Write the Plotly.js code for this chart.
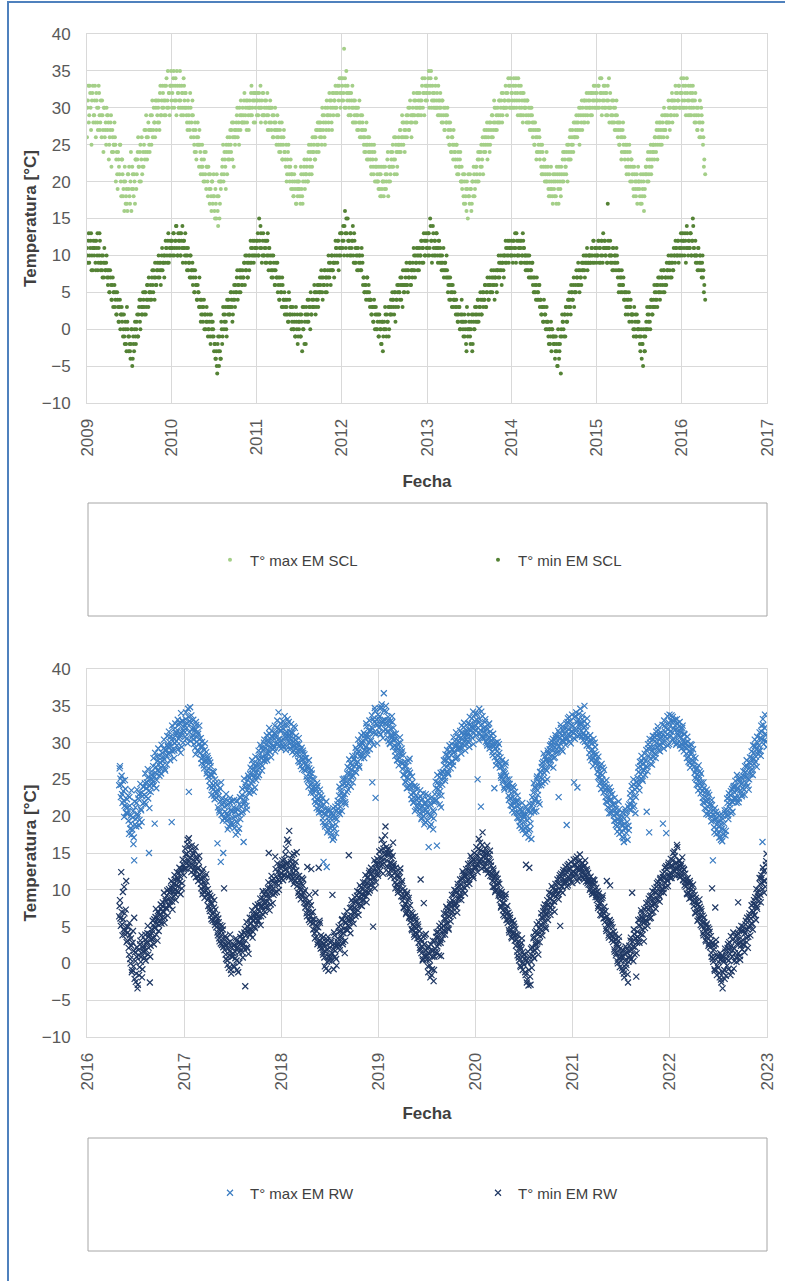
<!DOCTYPE html>
<html>
<head>
<meta charset="utf-8">
<script src="https://cdn.plot.ly/plotly-3.0.1.min.js"></script>
<style>html,body{margin:0;padding:0;background:#fff;}#chart{width:785px;height:1281px;}</style>
</head>
<body>
<div id="chart"></div>
<script>
// ---- DATA ----
// Station EM SCL: one row per month starting Jan 2009, 8 readings per month (°C)
const sclStart = [2009, 1];
const tmaxSCL = [
[30,33,29,32,27,31,33,29],[31,28,32,30,27,33,29,28],[29,31,27,30,26,28,30,27],[28,25,27,29,24,26,25,28],
[25,23,21,24,22,25,20,23],[21,19,16,20,18,17,21,19],[18,20,16,22,19,21,17,23],[21,24,22,20,25,23,21,24],
[25,23,27,26,24,28,25,27],[27,29,26,30,28,31,27,29],[30,28,32,29,31,33,30,29],[31,33,30,35,32,29,33,31],
[32,34,30,33,31,35,32,30],[33,31,29,32,30,34,31,32],[30,28,31,29,27,30,28,31],[27,25,28,24,26,28,25,27],
[24,22,25,21,23,20,24,22],[20,22,19,21,18,20,17,21],[16,19,15,18,14,20,17,19],[21,23,20,24,22,25,21,23],
[24,26,25,27,23,28,26,25],[27,29,26,28,30,27,29,28],[29,31,28,30,27,31,29,30],[30,32,29,31,28,32,30,31],
[31,29,32,30,28,31,32,29],[30,28,31,29,27,30,28,31],[28,30,26,29,27,28,25,29],[26,24,27,25,28,23,26,24],
[23,25,21,24,22,20,23,21],[20,18,21,19,17,20,18,19],[19,17,21,18,20,22,19,21],[22,20,24,21,23,25,22,24],
[25,23,26,24,27,25,28,26],[27,25,29,28,26,30,27,29],[29,27,31,30,28,32,29,31],[30,32,29,33,31,34,30,32],
[33,31,38,34,30,32,33,29],[31,29,32,30,28,31,29,30],[29,27,30,28,26,29,27,28],[26,24,27,25,23,26,24,25],
[23,21,24,22,25,20,23,22],[20,19,21,18,22,19,20,18],[19,21,20,23,18,22,20,24],[22,25,23,21,26,24,22,25],
[25,27,24,26,28,25,27,26],[28,26,29,27,30,28,26,29],[29,31,28,30,32,29,31,30],[31,29,33,30,32,34,31,33],
[32,34,30,33,35,31,32,30],[31,33,30,32,29,31,30,32],[29,31,28,30,27,29,28,30],[27,25,28,24,26,25,27,24],
[23,25,21,24,22,23,20,22],[20,18,21,17,19,20,15,18],[17,19,16,20,18,21,19,22],[21,23,20,24,22,25,23,21],
[24,26,25,27,23,26,28,25],[27,29,26,28,30,27,29,28],[29,31,28,30,32,29,30,31],[30,32,29,31,33,30,34,32],
[31,33,30,32,34,31,29,33],[30,32,29,31,28,32,30,31],[29,31,28,30,27,29,30,28],[27,25,28,26,24,27,25,26],
[24,22,25,21,23,20,22,24],[21,19,20,18,22,19,17,20],[18,20,17,21,19,22,20,18],[21,23,20,24,22,21,25,23],
[24,26,23,25,27,24,26,28],[26,28,27,29,25,30,28,27],[29,31,28,30,32,29,31,30],[30,32,29,31,33,30,32,31],
[31,33,30,34,32,29,31,33],[30,32,29,31,33,30,28,32],[29,31,28,30,27,29,31,28],[27,25,28,26,24,27,25,26],
[24,22,25,23,21,24,22,23],[21,19,22,20,18,21,19,20],[19,17,20,18,21,16,19,22],[21,23,20,22,24,21,23,25],
[24,26,25,27,23,26,28,25],[27,25,28,26,29,27,28,26],[28,30,27,29,31,28,30,29],[30,32,29,31,33,30,32,34],
[31,33,30,32,29,34,31,33],[30,32,29,31,33,30,28,32],[29,27,30,28,31,26,29,28],[26,23,21]
];
// second daily readings of each month (between the ones above)
const tmaxSCL2 = [
[26,31,28,33,30,25,32,28],[29,33,26,31,28,30,32,27],[31,26,29,24,30,27,25,29],[29,23,26,28,22,27,24,25],
[26,20,24,19,23,21,25,18],[23,18,20,22,17,19,16,21],[22,17,24,19,21,18,20,23],[19,23,26,22,24,20,26,22],
[22,27,24,29,23,26,27,24],[29,25,31,27,28,26,30,31],[28,31,27,33,29,30,32,31],[33,29,34,31,30,32,33,35],
[30,33,35,31,34,29,33,32],[31,35,30,33,32,29,33,30],[32,29,27,30,28,32,26,29],[29,26,24,27,23,25,26,22],
[25,21,23,22,20,24,21,19],[22,18,21,17,19,16,20,18],[18,15,17,21,16,18,15,20],[20,22,25,21,23,19,24,26],
[25,23,27,24,28,26,22,27],[26,28,30,27,25,29,31,28],[30,28,32,29,31,28,30,27],[31,29,33,30,32,31,28,32],
[29,32,30,31,33,30,29,32],[29,31,28,30,32,29,27,30],[30,27,29,26,28,30,27,26],[27,25,28,24,26,23,25,27],
[24,22,20,23,25,21,22,19],[21,19,18,20,22,17,19,20],[20,18,22,19,17,21,23,20],[21,23,20,25,22,24,21,26],
[24,26,23,27,25,28,24,27],[28,26,30,27,29,25,28,31],[30,28,32,29,31,27,30,32],[31,33,30,32,29,33,32,34],
[31,34,32,30,33,35,31,32],[30,32,29,31,33,30,28,31],[28,30,29,27,31,28,26,29],[27,25,26,24,28,25,23,26],
[24,22,25,23,21,24,22,20],[21,20,22,19,21,18,20,22],[20,22,19,21,24,20,22,21],[23,24,22,26,23,25,21,24],
[26,24,27,25,29,26,28,24],[27,29,28,30,27,31,29,28],[30,32,29,31,28,30,32,29],[32,30,31,34,32,29,33,32],
[31,33,35,32,34,30,33,31],[32,30,34,31,30,33,29,31],[30,28,31,29,27,30,28,29],[26,28,25,27,24,26,23,25],
[24,22,25,23,21,22,24,20],[19,21,17,20,18,16,19,21],[18,21,19,17,20,22,18,20],[22,20,24,23,21,24,22,26],
[25,27,24,26,28,25,27,24],[28,26,29,27,31,28,30,27],[30,28,31,29,31,28,32,30],[31,33,30,32,34,31,33,30],
[32,30,34,31,33,30,32,34],[31,29,33,30,32,29,31,30],[30,28,31,29,28,30,27,29],[26,28,25,27,23,26,24,27],
[23,25,21,24,22,23,21,20],[20,22,18,21,19,20,18,21],[19,21,18,22,20,17,21,19],[22,20,24,21,23,22,24,20],
[25,23,27,24,26,25,28,26],[27,29,26,28,30,27,29,31],[30,28,31,29,31,30,28,32],[31,29,32,30,32,31,33,30],
[32,30,33,31,32,34,30,32],[31,33,30,32,29,31,34,30],[30,28,29,31,28,30,27,29],[26,28,25,27,23,26,28,24],
[23,25,21,24,22,25,20,23],[20,22,18,21,19,20,17,22],[20,18,21,17,19,20,18,21],[22,20,24,21,23,25,22,24],
[25,23,26,24,28,25,27,26],[28,26,29,27,30,27,29,28],[29,31,28,30,29,32,31,30],[31,33,30,32,31,33,30,32],
[32,30,34,31,33,30,32,29],[31,29,33,30,32,31,29,31],[28,30,27,29,26,28,30,27],[25,22]
];
const tminSCL = [
[10,12,9,11,13,10,8,11],[11,9,12,10,8,11,13,9],[9,8,10,7,9,8,10,8],[7,5,8,6,4,7,5,6],
[4,2,5,3,1,4,2,3],[2,0,-1,1,-2,3,0,-3],[-2,-4,0,-5,-1,-3,1,-2],[1,-1,2,4,0,3,2,5],
[3,5,2,4,6,3,5,4],[5,7,6,8,4,7,6,9],[7,9,8,6,10,8,9,7],[9,11,10,12,9,11,10,12],
[11,13,10,12,14,11,10,12],[12,10,13,11,9,12,11,13],[10,8,11,9,7,10,8,9],[7,5,8,6,4,6,5,7],
[4,2,3,1,4,2,0,3],[2,0,1,-1,2,0,1,-1],[-2,-4,-3,-6,-1,-5,-3,-4],[0,-1,2,1,3,0,4,2],
[3,2,5,4,1,4,6,3],[5,7,4,6,8,5,7,6],[7,9,6,8,10,7,9,8],[9,11,10,12,9,10,11,12],
[12,10,15,11,13,9,12,10],[11,9,12,10,13,8,11,10],[8,10,7,9,6,8,7,9],[6,4,7,5,3,6,4,5],
[3,2,4,1,5,2,3,0],[2,0,1,-1,3,0,-2,1],[1,-1,2,-3,0,3,1,-2],[2,4,1,3,0,2,4,3],
[3,5,2,4,6,3,5,7],[5,7,4,6,8,5,7,6],[7,9,8,6,10,8,9,7],[9,11,10,12,8,11,10,13],
[12,14,10,16,11,13,15,12],[11,13,10,12,14,9,12,11],[10,8,11,9,10,8,11,9],[7,5,6,4,7,5,6,4],
[4,2,3,1,4,0,3,2],[1,-1,2,0,-2,1,-3,0],[0,2,-1,1,3,0,2,4],[2,4,3,5,1,4,6,3],
[5,4,6,7,3,6,5,8],[6,8,5,7,9,6,8,7],[8,10,7,9,11,8,10,9],[10,12,9,11,13,10,12,11],
[11,13,10,15,12,9,14,11],[12,10,13,11,9,12,10,11],[9,10,8,7,9,8,10,7],[6,4,7,5,3,6,4,5],
[3,4,2,1,3,0,2,4],[1,-1,2,0,-2,3,-1,0],[0,-2,1,-3,2,0,3,1],[2,4,1,3,5,2,4,3],
[4,6,3,5,7,4,6,5],[5,7,6,8,4,7,6,8],[7,9,8,10,6,9,8,10],[9,11,10,12,9,11,10,12],
[10,12,11,13,9,12,10,11],[11,9,12,10,13,11,9,10],[9,8,10,7,9,8,7,9],[7,5,6,4,7,5,4,6],
[4,2,3,1,4,2,0,3],[1,-1,0,-2,1,0,-1,-2],[-1,-3,-2,-5,0,-4,-2,-6],[-1,1,0,2,-1,3,1,4],
[3,4,2,5,4,6,3,5],[5,7,6,8,5,7,6,8],[8,9,7,9,10,8,9,10],[9,10,11,9,12,10,11,9],
[10,12,9,11,10,12,9,11],[12,10,11,9,17,11,10,12],[10,9,11,8,10,9,11,9],[8,6,7,5,8,6,7,5],
[5,3,4,2,5,3,4,2],[2,0,3,1,-1,2,0,1],[-1,-3,0,-2,-5,-1,-3,0],[0,2,1,3,0,4,2,3],
[3,5,4,6,3,7,5,4],[5,7,6,8,5,7,6,8],[7,9,8,10,7,9,8,10],[9,11,10,12,9,11,10,12],
[10,12,11,13,9,14,11,12],[11,13,10,12,15,11,10,12],[10,9,11,8,10,9,7,10],[8,6,4]
];
const tminSCL2 = [
[11,9,13,10,12,8,11,12],[10,12,8,11,13,9,10,12],[8,10,7,9,11,8,9,7],[6,8,5,7,4,6,3,5],
[3,5,2,4,1,3,0,2],[1,-1,2,-2,0,-3,1,-1],[-1,-3,-2,0,-4,-2,0,-1],[0,2,-1,3,1,4,2,3],
[4,2,5,3,6,4,7,5],[6,4,8,5,7,9,6,8],[8,10,7,9,8,11,9,10],[10,12,11,9,13,10,12,11],
[12,10,13,11,12,14,10,13],[11,13,10,12,14,11,12,10],[9,11,10,8,9,10,7,8],[6,8,5,7,6,4,5,3],
[3,1,4,2,3,0,2,1],[1,-1,0,2,-2,1,-1,0],[-3,-2,-4,-5,-2,-3,-1,-4],[1,-2,3,0,2,1,-1,3],
[4,2,3,5,3,2,5,4],[6,5,8,6,5,7,8,6],[8,7,9,10,8,9,7,10],[10,12,9,11,10,12,11,10],
[11,13,10,12,14,11,10,13],[10,12,11,9,12,10,11,9],[9,7,8,10,8,6,9,7],[5,7,4,6,5,7,3,4],
[2,4,3,2,1,4,2,3],[1,3,0,2,-1,1,2,-1],[0,2,-1,1,3,0,-2,2],[3,1,2,4,3,5,2,3],
[4,6,5,3,5,4,6,5],[6,8,5,7,6,8,7,5],[8,10,7,9,8,10,8,9],[10,12,11,9,12,10,13,11],
[13,11,12,14,13,15,10,12],[12,10,13,11,12,10,13,9],[9,11,10,8,10,9,8,10],[6,7,5,6,5,7,4,5],
[3,4,2,3,1,3,2,0],[0,2,-1,1,0,-2,1,-1],[1,3,0,2,1,-1,3,2],[3,5,4,2,5,3,4,5],
[6,5,7,4,6,8,5,6],[7,9,6,8,7,9,6,8],[9,11,8,10,9,10,11,8],[11,10,12,11,9,12,10,13],
[12,10,13,11,14,12,10,13],[10,12,11,13,10,11,12,9],[10,8,9,11,8,9,7,8],[5,7,6,4,6,5,3,4],
[4,2,3,1,2,3,0,1],[2,0,1,-1,1,-3,0,2],[1,-1,0,2,-2,1,0,2],[3,1,4,2,3,4,2,5],
[5,4,6,3,5,6,4,7],[6,8,5,7,6,7,8,5],[8,10,7,9,8,9,10,7],[10,12,9,11,10,12,11,10],
[11,9,12,10,11,13,10,12],[10,12,11,9,10,12,11,10],[8,10,9,8,10,7,8,9],[6,5,7,5,6,4,5,6],
[3,4,2,3,1,3,2,1],[0,1,-2,0,-1,-3,0,-1],[-2,-4,-1,-3,-5,-2,-3,-1],[0,2,1,-1,2,3,1,2],
[4,5,3,6,5,4,7,5],[6,8,7,9,6,8,7,9],[9,10,8,10,9,11,9,10],[10,9,11,10,12,9,11,10],
[11,10,12,11,9,12,10,13],[11,12,10,11,9,12,11,10],[9,10,8,11,9,10,8,10],[7,5,8,6,7,5,6,4],
[4,2,5,3,4,1,3,2],[1,2,-1,0,2,-1,1,0],[0,-2,-1,-4,-2,0,-3,-1],[1,3,0,2,1,3,4,2],
[4,6,3,5,4,6,5,7],[6,8,7,5,8,6,7,9],[8,10,9,7,9,10,8,11],[10,12,11,10,12,10,11,13],
[11,13,12,10,12,11,13,10],[12,11,13,10,12,14,11,10],[9,10,8,11,9,10,8,9],[7,5]
];
// Station EM RW: one row per month starting May 2016, 10 readings per month (°C)
const rwStart = [2016, 5];
const tmaxRW = [
[26.5,25.1,24.3,23.0,24.8,22.1,21.4,23.7,20.5,22.3],[21.2,19.4,22.6,18.3,20.1,17.5,19.8,16.2,14.0,18.9],
[19.6,21.8,20.3,22.4,18.7,23.1,21.0,19.2,22.7,24.0],[22.9,24.5,21.6,23.8,25.2,22.4,15.0,24.1,23.3,25.6],
[25.0,26.8,24.2,19.0,25.9,23.8,28.1,26.3,27.0,25.5],[27.3,25.8,28.6,26.9,29.2,27.7,26.2,28.9,27.0,29.6],
[28.4,30.1,27.6,29.5,19.2,28.8,30.6,27.9,29.9,31.0],[30.2,31.7,29.1,32.4,30.8,28.6,31.5,33.0,30.0,32.1],
[31.4,33.2,30.5,32.6,34.6,23.3,32.9,30.2,33.7,31.8],[32.0,30.4,31.6,29.3,32.8,30.7,28.9,31.2,29.8,30.5],
[29.4,27.8,30.1,28.3,26.9,29.0,27.4,28.7,26.2,27.9],[26.5,24.8,27.3,25.6,23.9,26.1,24.2,22.8,25.0,23.4],
[23.1,16.3,22.7,20.8,23.8,13.8,20.2,22.4,15.0,19.7],[20.6,22.3,19.4,21.5,20.0,18.6,21.9,20.8,19.1,22.0],
[19.8,21.2,18.4,20.6,19.3,22.1,17.8,20.2,21.6,19.6],[21.3,22.9,20.6,16.5,21.8,24.4,22.6,20.9,24.9,23.2],
[24.1,25.7,23.5,26.4,24.8,27.1,25.3,23.9,26.8,25.9],[26.3,27.8,25.6,28.4,27.1,29.3,26.8,28.1,30.0,27.5],
[28.3,29.7,27.6,30.4,28.9,31.2,29.4,28.0,30.8,29.1],[29.6,31.3,28.8,30.7,32.0,29.9,34.1,30.5,31.6,29.2],
[30.3,31.9,29.5,32.4,30.8,29.0,31.5,33.2,30.1,31.0],[30.6,29.2,31.4,28.7,30.1,32.2,29.6,28.4,30.9,29.8],
[28.9,27.5,29.8,28.2,26.8,29.3,27.7,28.6,26.3,27.9],[27.0,25.4,26.6,24.8,27.6,25.9,24.2,26.3,23.6,25.1],
[24.0,22.6,23.4,21.7,24.5,22.2,20.9,23.1,21.4,22.8],[21.3,19.7,13.8,20.4,18.6,21.0,13.1,20.7,18.1,19.9],
[19.2,17.8,20.4,18.6,21.1,17.1,19.7,18.9,20.8,21.6],[21.0,22.8,20.3,23.5,21.9,24.3,22.4,25.1,23.0,21.6],
[24.2,25.8,23.6,26.5,24.9,27.2,25.4,26.9,24.6,27.7],[26.8,28.2,25.9,29.0,27.4,28.8,26.6,29.5,27.9,30.1],
[28.7,30.2,27.9,31.0,29.4,32.2,28.4,30.7,31.6,29.1],[30.4,32.1,24.6,33.2,31.3,34.7,22.5,32.6,29.9,33.8],
[32.0,33.6,31.1,34.8,32.7,30.6,36.7,33.1,31.8,34.2],[31.5,33.0,30.2,32.3,29.8,31.9,30.7,32.8,29.4,31.2],
[29.6,28.2,30.5,27.6,29.1,26.9,28.5,30.0,27.3,28.8],[27.2,25.6,26.8,24.7,26.2,23.8,25.3,27.5,24.1,25.9],
[23.9,22.3,24.6,21.8,23.2,20.7,22.8,24.0,21.3,22.5],[21.9,20.4,22.7,19.6,21.3,23.1,20.0,21.8,19.2,20.9],
[20.5,22.2,15.8,21.4,20.1,18.9,22.6,20.8,19.7,21.9],[22.1,23.8,16.0,24.6,22.9,25.3,23.4,21.2,24.9,26.0],
[25.4,26.9,24.8,27.6,26.1,28.3,25.7,27.2,28.8,26.5],[27.4,29.0,26.9,28.6,30.2,27.8,29.5,28.1,30.8,29.1],
[29.3,30.6,28.5,31.4,29.8,32.1,30.3,28.9,31.7,30.9],[30.2,31.8,29.4,32.5,30.9,33.3,31.4,29.8,32.2,33.9],
[31.6,33.1,25.0,32.7,34.6,31.2,21.3,30.8,33.6,31.9],[31.4,32.8,30.1,31.9,29.6,32.4,30.7,29.2,31.5,30.3],
[29.7,28.3,30.5,23.8,29.2,26.9,28.8,30.1,27.4,28.6],[27.1,25.5,26.7,24.6,26.2,23.9,25.8,27.3,24.3,25.0],
[23.8,22.2,24.4,21.5,23.1,20.8,22.6,23.9,21.2,22.0],[21.4,19.8,22.1,20.3,18.7,21.0,19.4,20.6,18.1,19.9],
[19.3,17.6,20.2,18.6,21.0,17.1,19.7,18.2,20.5,21.4],[21.7,23.2,20.6,24.0,22.4,25.1,23.5,21.9,24.6,26.0],
[25.2,26.7,24.5,27.4,25.9,28.1,26.4,27.7,25.0,28.6],[27.6,29.1,26.8,29.8,28.3,30.5,27.9,29.4,31.0,28.6],
[29.1,30.7,22.6,31.3,29.9,32.0,30.3,28.8,31.6,30.1],[30.5,32.0,18.8,32.8,31.2,33.5,30.8,29.9,32.4,31.5],
[31.3,24.6,30.5,33.6,31.8,23.9,32.4,33.9,31.0,32.6],[31.6,33.2,30.3,32.1,35.0,30.9,31.7,29.6,32.5,30.6],
[29.5,28.0,30.3,27.6,29.1,26.8,28.6,30.0,27.2,28.4],[26.9,25.3,26.4,24.4,25.8,23.7,25.0,26.6,23.2,24.6],
[23.5,22.0,23.9,21.2,22.7,20.4,22.2,23.4,20.8,21.6],[21.0,19.4,21.7,18.8,20.3,17.9,19.6,20.9,18.3,19.1],
[18.8,17.2,19.9,16.5,18.4,20.6,17.7,19.2,21.3,18.1],[20.9,22.5,21.6,23.4,21.2,24.3,22.8,20.4,24.7,23.9],
[24.4,26.0,23.5,26.8,25.1,27.5,24.8,26.3,27.9,25.6],[26.8,20.6,26.1,29.2,17.8,30.0,27.1,28.8,30.4,28.0],
[28.6,30.2,27.9,31.0,29.4,31.7,28.9,30.6,29.7,31.3],[30.0,19.0,29.2,32.3,30.8,17.7,31.1,29.6,32.7,33.8],
[31.5,32.9,30.4,33.5,31.9,30.1,32.3,29.7,33.2,31.2],[30.9,32.2,29.6,31.5,29.2,32.0,30.4,28.8,31.1,29.9],
[29.3,27.9,30.1,27.4,28.8,26.6,28.4,29.7,27.0,28.1],[26.7,25.2,26.3,24.3,25.7,23.5,24.9,26.1,23.1,24.6],
[23.4,21.9,23.8,21.1,22.6,20.3,22.0,23.2,20.7,21.5],[20.9,19.3,21.5,14.0,20.2,17.8,19.5,20.6,18.2,19.0],
[18.6,17.1,19.4,16.8,18.3,20.1,17.5,19.0,20.4,18.0],[20.2,21.8,19.6,22.6,21.1,23.4,22.0,20.6,23.9,22.4],
[22.6,24.1,21.8,23.5,25.0,22.4,24.6,23.1,25.3,22.9],[23.8,25.4,22.9,26.0,24.5,26.8,25.1,23.6,27.3,25.7],
[26.3,27.9,25.6,28.6,27.1,29.5,28.1,26.7,30.0,28.9],[28.8,30.6,28.2,31.5,16.5,32.4,30.3,33.8,31.0,29.4]
];
const tmaxRW2 = [
[24.2,26.8,22.6,25.5,21.8,23.4,19.9,24.9,21.2,20.4],[20.3,22.8,17.6,21.4,19.0,23.5,18.2,20.7,17.1,22.0],
[21.2,18.6,23.6,20.0,22.9,19.5,24.4,20.8,23.2,21.7],[24.0,21.9,25.8,22.7,24.6,26.4,23.4,21.1,25.1,24.4],
[26.1,24.7,27.9,25.4,28.6,26.7,24.9,27.5,29.2,26.0],[28.2,26.5,29.7,27.5,28.1,30.4,26.4,29.0,28.3,30.9],
[29.4,31.5,28.6,30.8,29.0,32.3,30.2,31.8,28.9,32.6],[31.3,29.6,33.1,30.5,32.7,31.1,34.0,29.4,32.9,31.6],
[32.4,30.8,34.1,32.0,29.9,33.5,31.4,34.8,32.7,30.7],[31.0,33.1,29.8,31.9,28.4,32.4,30.1,31.5,28.8,32.3],
[28.6,30.6,27.2,29.5,28.0,26.5,29.9,27.6,25.8,28.2],[25.4,27.6,24.1,26.8,22.9,25.6,23.6,26.0,22.3,24.5],
[22.5,24.3,21.2,23.4,20.5,22.0,24.6,21.5,19.4,21.8],[21.3,19.8,23.0,20.4,18.2,21.6,19.6,22.5,18.9,20.7],
[20.7,18.9,22.2,19.9,17.5,21.0,19.1,20.9,18.3,22.6],[22.5,20.4,23.7,21.6,25.1,22.1,24.0,21.4,23.5,25.5],
[25.2,23.1,26.6,24.5,27.6,25.7,23.3,26.4,28.1,24.9],[27.2,25.3,28.9,26.6,29.7,27.9,26.2,29.0,27.6,30.4],
[29.2,28.0,31.0,28.6,30.1,32.0,28.7,29.8,31.6,30.3],[30.7,29.3,32.3,31.2,29.8,33.0,30.4,31.9,29.6,32.6],
[31.6,29.7,32.9,30.4,33.6,31.2,29.5,32.3,30.7,32.8],[31.5,30.0,32.5,29.5,31.3,30.6,28.9,32.0,30.4,29.2],
[29.8,28.4,30.6,27.3,29.0,27.9,26.4,28.9,27.2,28.4],[26.2,27.9,25.0,26.9,24.0,26.5,25.3,23.2,25.8,24.5],
[23.2,25.0,22.0,23.8,21.1,24.1,22.5,20.5,23.6,21.9],[20.6,22.4,19.2,21.6,18.9,20.2,22.0,17.8,20.9,19.4],
[18.5,20.8,17.4,19.9,16.8,20.2,18.3,21.3,17.7,19.6],[22.1,20.5,24.0,21.3,23.2,20.7,25.0,22.7,24.4,21.9],
[25.1,23.3,26.7,24.4,27.7,25.8,24.0,26.3,28.2,25.5],[27.7,26.1,29.3,27.0,28.5,30.4,26.8,29.8,28.2,31.0],
[29.8,28.3,31.3,29.0,30.6,32.6,28.9,31.1,30.0,33.0],[31.6,30.2,33.7,31.9,29.7,32.8,34.3,31.2,33.1,32.4],
[33.3,31.4,34.6,32.4,35.2,33.0,31.6,34.3,32.6,35.0],[32.4,30.7,33.5,31.5,29.9,32.9,31.0,33.6,30.4,32.0],
[30.4,28.8,31.2,29.4,27.6,29.9,28.0,30.7,28.4,29.2],[26.4,28.3,25.6,27.4,24.6,26.8,25.2,23.9,26.2,27.8],
[24.4,22.9,25.4,23.2,21.9,24.1,22.4,20.9,23.6,21.6],[22.4,20.9,23.5,21.2,19.8,22.3,20.6,18.9,21.6,23.0],
[21.3,19.4,22.8,20.3,18.6,21.6,19.9,22.1,18.2,20.6],[23.0,24.7,22.2,25.6,23.7,24.2,21.6,25.9,22.8,24.3],
[26.0,27.6,25.2,28.4,26.7,29.0,25.9,27.9,29.6,27.1],[28.3,29.8,27.4,30.7,28.8,29.6,31.4,27.9,30.2,29.4],
[30.1,31.6,29.2,32.3,30.5,31.0,32.7,29.6,31.3,30.4],[31.2,32.6,30.0,33.5,31.7,32.1,30.6,34.2,31.9,32.9],
[32.4,31.0,33.9,32.0,30.3,33.2,31.7,34.2,32.5,30.6],[32.0,30.6,33.2,31.2,29.9,31.8,30.4,32.6,29.6,31.0],
[30.3,28.7,31.2,29.5,28.0,30.0,27.5,29.4,28.2,29.8],[26.6,28.0,25.2,27.6,24.9,26.0,23.6,26.9,25.5,24.2],
[24.4,22.8,25.0,22.4,23.6,21.4,24.1,22.0,20.5,23.3],[22.0,20.5,22.8,19.7,21.5,19.2,20.9,18.4,21.8,20.2],
[20.1,18.4,21.3,17.8,19.4,20.7,18.0,21.7,19.0,16.9],[22.6,21.0,24.5,22.1,23.8,20.7,25.4,22.9,24.2,21.6],
[26.0,24.2,27.2,25.1,28.5,26.6,24.7,27.6,26.2,28.9],[28.4,27.0,29.6,27.6,30.2,28.9,26.6,29.9,28.0,30.6],
[30.0,28.7,31.6,29.5,30.6,32.4,29.0,31.0,30.3,32.0],[31.2,29.7,32.6,30.6,33.3,31.8,30.1,32.9,31.5,33.8],
[32.2,30.6,33.5,31.6,34.1,32.8,30.9,33.2,31.8,34.6],[32.4,30.8,33.7,31.2,32.9,30.1,32.2,31.0,33.3,30.7],
[30.2,28.6,31.0,28.9,29.9,27.9,30.5,28.3,29.4,27.6],[27.5,26.0,28.1,25.2,26.8,24.6,27.1,25.6,24.0,26.3],
[24.2,22.6,24.9,21.9,23.4,21.1,23.9,22.2,20.4,23.0],[21.6,20.1,22.5,19.4,21.0,18.6,20.4,22.0,17.6,19.8],
[19.4,17.8,20.5,17.0,19.0,21.0,18.4,20.0,16.8,18.7],[21.6,23.1,20.8,24.1,22.1,25.0,21.4,23.6,22.6,24.6],
[25.2,26.6,24.3,27.4,25.7,28.2,25.0,27.0,26.2,28.5],[27.5,29.0,26.7,29.8,28.2,30.5,27.8,29.3,27.0,30.9],
[29.3,30.8,28.5,31.5,30.0,32.2,29.6,31.2,28.8,30.6],[30.8,32.4,29.9,33.0,31.5,32.0,30.5,33.6,31.8,29.8],
[32.2,30.9,33.7,31.4,32.9,30.5,33.1,31.8,29.9,32.6],[31.6,30.2,32.8,30.8,31.9,29.7,32.3,30.1,31.2,29.4],
[30.0,28.5,30.8,28.0,29.4,27.2,29.8,28.7,27.6,29.1],[27.4,25.9,27.9,25.0,26.6,24.2,26.9,25.3,23.8,25.8],
[24.1,22.5,24.6,21.8,23.2,21.0,23.6,22.3,20.2,22.9],[21.6,20.0,22.2,19.4,20.8,18.5,21.1,19.7,17.6,20.3],
[19.3,17.7,20.1,17.2,18.9,16.6,19.6,18.1,20.8,17.4],[20.9,22.4,20.1,23.1,21.6,22.9,20.4,23.7,21.9,24.1],
[23.2,24.8,22.4,25.6,23.8,21.9,25.1,23.5,24.4,22.7],[24.5,26.1,23.6,26.8,25.4,27.6,24.1,26.4,25.0,28.0],
[27.1,28.8,26.4,29.6,27.8,30.4,27.4,29.1,30.8,28.4],[29.6,31.4,28.9,32.3,30.5,33.2,29.8,32.0,31.2,30.2]
];
const tminRW = [
[7.8,6.1,12.4,5.3,9.7,4.6,6.8,3.9,11.2,5.0],[4.2,2.1,5.5,0.6,3.4,-1.2,2.8,-0.4,6.2,1.5],
[-2.5,0.9,-3.4,1.8,-1.6,2.6,0.2,3.8,-0.8,2.0],[1.6,3.2,0.4,2.7,4.1,1.2,3.6,-2.6,2.4,4.6],
[3.3,5.2,2.6,4.8,6.3,3.9,5.9,7.1,4.4,6.6],[5.8,7.4,6.2,8.3,6.9,5.5,8.8,7.6,9.2,6.5],
[7.9,9.6,8.4,10.3,8.9,7.3,10.8,9.1,11.4,8.6],[9.8,11.6,10.5,12.3,11.1,9.4,12.8,10.9,13.4,12.0],
[12.9,14.8,13.6,16.2,14.1,17.0,13.3,15.4,12.4,14.6],[14.0,12.6,15.3,13.2,11.7,14.5,12.9,11.2,13.8,12.1],
[11.5,10.2,12.4,9.8,11.0,8.9,10.6,12.1,9.4,10.1],[8.8,7.4,9.2,6.5,8.1,5.8,7.0,8.6,5.2,6.3],
[5.6,4.2,6.1,3.4,4.8,2.7,3.9,5.1,2.2,10.2],[2.6,1.2,3.4,0.4,2.0,-0.6,1.6,3.0,-1.4,0.9],
[1.4,-0.3,2.5,0.7,3.1,-0.9,1.9,2.8,0.1,3.6],[1.9,3.3,0.8,2.6,4.2,-3.1,3.8,2.2,5.0,1.3],
[3.9,5.4,4.6,6.2,3.5,5.9,7.0,4.8,6.6,5.3],[5.8,7.3,6.4,8.1,5.2,7.7,8.9,6.6,9.4,7.0],
[7.6,9.1,8.4,10.2,15.0,7.2,10.7,9.5,11.3,8.2],[9.3,10.9,14.5,11.8,9.7,12.4,10.6,11.2,13.0,12.2],
[11.5,13.2,12.0,14.1,12.7,15.6,13.5,11.9,16.4,18.0],[12.2,13.8,11.4,14.7,12.9,10.8,13.3,11.8,12.6,15.1],
[11.0,9.6,11.9,10.3,8.7,10.8,9.2,11.4,8.3,9.9],[8.1,6.8,13.1,7.3,5.9,8.4,6.4,12.8,5.4,7.0],
[5.5,4.1,9.6,3.6,5.0,2.9,13.0,5.8,2.4,3.8],[2.9,1.5,3.6,0.8,2.3,-0.7,1.9,3.2,-1.0,0.4],
[1.2,2.8,0.3,9.3,1.9,4.2,0.9,2.5,-0.3,3.0],[2.6,4.3,1.8,5.2,3.4,6.0,2.9,4.7,1.4,5.6],
[4.6,6.2,5.1,14.7,5.7,4.1,7.6,6.5,8.3,5.4],[6.9,8.4,7.4,9.2,8.0,6.6,9.7,8.7,10.3,7.8],
[8.6,10.1,9.2,11.0,9.7,8.3,11.6,10.4,12.3,9.9],[10.6,12.2,11.1,5.0,11.7,10.2,13.6,12.5,14.2,11.9],
[12.8,14.5,13.3,15.4,13.9,12.2,16.2,14.8,18.6,15.8],[13.2,14.9,12.4,15.6,13.7,11.8,14.3,12.9,16.4,13.5],
[11.6,10.2,12.5,10.8,9.6,11.9,10.4,12.9,9.1,11.2],[9.0,7.6,9.8,8.2,6.7,9.3,7.1,8.6,6.2,7.9],
[6.1,4.7,6.8,5.3,3.9,6.4,4.2,5.7,3.4,5.0],[3.5,2.1,11.4,1.4,3.0,0.6,8.2,3.8,0.9,1.8],
[1.2,-0.4,2.3,0.5,-1.9,1.8,-0.8,3.1,-2.4,0.9],[2.0,3.6,1.4,4.3,2.7,5.1,3.2,1.0,4.8,3.9],
[4.5,6.1,3.9,6.8,5.3,7.4,4.8,6.4,8.0,5.7],[7.1,8.6,6.5,9.3,7.8,9.9,8.2,6.9,10.4,8.9],
[9.2,10.8,8.6,11.5,9.9,12.2,10.3,11.8,12.8,10.6],[11.3,12.9,10.8,13.6,12.1,14.3,12.6,11.6,15.0,13.2],
[13.0,14.7,12.4,15.5,13.8,16.4,14.2,12.9,17.8,15.1],[13.6,15.0,12.7,14.4,16.0,12.2,13.9,14.8,11.9,13.3],
[11.8,10.4,12.6,11.1,9.7,12.0,10.1,11.5,9.2,10.8],[9.1,7.6,9.7,8.2,6.6,8.8,7.0,9.4,5.9,7.8],
[6.0,4.5,6.6,5.1,3.6,5.7,4.0,5.4,3.1,4.7],[3.2,1.6,3.8,0.8,2.5,-0.3,1.9,3.4,-0.9,1.2],
[0.6,-1.2,13.4,-2.6,0.1,-3.0,13.0,-1.8,2.0,-0.6],[1.6,3.4,0.7,4.2,2.5,5.3,2.9,1.2,4.8,3.7],
[4.6,6.3,3.8,7.1,5.4,8.0,4.9,6.7,8.6,5.9],[7.2,8.8,6.6,9.5,7.9,10.2,8.4,7.0,10.8,9.1],
[9.3,10.9,8.7,11.6,5.1,12.2,10.5,9.6,12.7,11.3],[11.0,12.6,10.4,13.3,11.8,12.9,11.4,13.8,12.2,10.9],
[11.8,13.4,12.3,14.2,12.8,11.2,13.8,12.6,14.8,13.1],[12.4,13.7,11.6,13.1,12.0,14.0,11.1,12.8,10.9,12.3],
[11.2,10.0,11.8,10.6,9.4,11.4,9.9,10.8,9.0,10.3],[9.0,7.5,9.5,8.1,6.6,8.7,7.0,9.2,6.1,7.7],
[6.2,4.7,11.2,5.3,3.8,5.8,10.6,5.6,3.2,4.9],[3.4,1.9,3.9,1.1,2.7,0.3,2.2,3.6,-0.5,1.4],
[0.9,-0.6,1.8,-1.4,0.4,2.3,-0.2,1.5,-2.6,0.7],[1.7,3.1,0.6,9.6,2.3,4.6,1.2,3.4,-1.8,2.8],
[3.6,5.2,2.8,6.0,7.2,6.8,3.9,5.5,7.4,4.8],[5.9,7.6,5.1,8.3,6.7,9.1,6.2,7.9,9.8,7.0],
[8.0,9.7,7.4,10.4,8.8,11.1,9.3,8.4,11.6,10.0],[10.1,11.7,9.6,12.4,10.9,13.2,11.4,10.5,13.7,12.0],
[11.6,13.3,12.1,14.0,12.7,15.2,13.6,11.9,16.1,12.9],[12.5,13.9,11.7,13.2,12.0,14.4,11.3,12.8,10.6,12.2],
[11.0,9.5,11.6,10.2,8.8,10.9,9.2,10.5,8.4,9.8],[8.3,6.9,8.9,7.4,5.8,8.0,6.3,7.7,5.2,7.1],
[5.6,4.1,6.2,4.8,3.2,5.2,3.6,4.9,2.7,4.3],[3.0,1.4,10.2,0.6,2.4,-0.8,7.6,3.2,-1.6,0.9],
[0.2,-1.3,1.4,-2.2,0.8,-3.4,0.5,-0.9,2.0,-1.7],[0.6,2.1,-0.8,2.9,1.3,3.7,-1.1,1.8,4.2,0.3],
[1.4,3.1,0.2,3.8,8.3,4.6,1.0,2.8,5.1,1.9],[2.6,4.4,1.5,5.3,3.5,6.2,2.1,4.9,6.8,3.8],
[5.4,7.2,4.6,8.1,6.5,9.0,5.9,7.7,9.6,8.4],[9.0,10.8,8.3,11.6,10.1,12.5,9.6,11.2,13.4,14.9]
];
const tminRW2 = [
[6.4,8.6,5.1,7.0,3.8,6.0,10.4,4.4,7.3,2.9],[3.1,5.0,1.2,3.8,0.0,2.4,-0.9,4.4,1.7,-2.1],
[0.3,-1.4,2.2,-2.9,1.1,-0.5,3.1,0.9,-1.9,1.6],[2.4,0.8,3.9,1.8,3.0,5.1,2.1,4.0,0.9,3.3],
[4.1,5.8,3.4,6.0,4.9,7.4,5.4,3.1,6.9,5.2],[6.6,8.0,5.4,7.8,7.1,9.6,6.2,8.5,7.4,9.9],
[8.7,10.1,7.8,9.8,11.2,8.4,10.4,9.8,12.0,9.4],[10.6,12.4,11.3,9.7,13.0,11.8,12.6,10.2,14.1,12.8],
[13.9,15.6,12.9,14.9,16.8,13.8,15.9,14.3,13.1,16.0],[13.3,14.9,12.1,13.9,15.8,12.6,14.2,11.8,13.0,14.6],
[12.0,10.8,11.4,9.4,12.8,10.4,11.7,9.9,11.1,8.6],[7.8,9.5,7.1,8.4,6.0,9.0,6.7,7.6,5.6,7.3],
[4.9,6.6,3.8,5.6,3.0,5.2,4.4,2.5,4.6,3.3],[1.8,3.7,0.6,2.5,-0.2,2.8,1.1,3.9,-0.9,2.2],
[0.9,2.4,-0.5,1.6,3.4,0.4,2.2,-1.2,1.5,2.9],[2.7,4.0,1.5,3.4,2.1,4.7,3.1,5.6,2.0,4.4],
[4.6,6.2,3.9,5.4,7.2,4.3,6.6,5.0,7.8,6.1],[6.6,8.0,5.8,7.1,8.8,6.4,7.8,9.8,7.2,8.4],
[8.3,9.8,7.8,9.4,11.0,8.9,10.2,8.0,11.9,10.0],[10.2,11.5,9.6,12.8,10.9,13.6,11.4,10.0,12.0,13.3],
[12.3,14.0,11.3,13.4,12.0,14.8,12.8,16.8,13.7,11.7],[13.0,12.0,14.2,11.8,13.5,12.3,14.9,11.2,13.8,12.6],
[10.5,11.8,9.2,11.3,10.0,9.3,11.6,10.6,9.6,8.7],[7.6,8.9,6.4,8.2,7.0,9.3,5.6,7.9,6.9,6.0],
[4.6,6.0,3.4,5.2,4.4,2.6,4.9,3.1,5.5,2.0],[2.1,3.4,1.2,2.7,-0.4,1.6,2.9,0.2,3.6,0.9],
[2.1,0.8,3.1,1.4,2.5,-0.8,3.8,1.7,0.6,2.3],[3.4,5.0,2.3,4.4,3.7,5.9,2.6,4.1,6.5,3.1],
[5.5,7.1,4.5,6.4,5.0,7.5,6.1,8.6,5.9,7.0],[7.5,9.0,6.4,8.4,9.8,7.2,8.9,10.6,7.9,9.4],
[9.4,11.0,8.6,10.5,12.0,9.1,10.9,11.8,9.6,12.6],[11.4,13.0,10.7,12.4,11.6,14.0,12.9,11.0,13.5,12.1],
[13.6,15.2,12.6,14.3,16.8,13.4,15.6,14.1,17.4,14.9],[14.0,15.5,13.0,14.9,12.2,15.1,13.6,12.8,14.6,13.2],
[12.2,11.0,13.0,10.6,12.0,10.0,11.6,12.4,9.8,10.9],[8.5,10.2,7.5,9.1,8.0,6.9,9.6,7.4,8.9,6.4],
[5.6,7.0,4.5,6.3,5.0,3.6,6.0,4.8,4.0,5.3],[2.8,4.4,1.8,3.3,2.2,0.4,3.6,2.6,1.2,4.0],
[0.5,2.0,-1.2,1.3,-0.3,2.6,-1.6,0.9,1.7,-0.9],[3.0,1.6,4.2,2.3,3.6,1.1,4.6,2.8,5.4,3.3],
[5.1,6.8,4.4,6.0,7.7,5.5,7.0,4.6,6.4,8.3],[7.7,9.3,7.0,8.4,10.0,8.0,9.6,7.5,10.8,8.7],
[9.9,11.4,9.2,10.7,12.5,10.4,11.9,9.5,12.2,11.1],[12.0,13.5,11.4,12.6,14.6,12.4,13.9,11.9,14.0,13.0],
[13.9,15.8,13.3,14.6,16.9,14.0,15.4,13.6,16.1,14.5],[14.4,13.1,15.6,13.6,14.9,12.7,14.1,12.4,15.3,13.8],
[12.3,11.2,12.9,10.4,11.7,9.9,12.2,10.7,11.0,9.5],[8.6,10.0,7.8,9.3,7.2,8.2,6.4,9.0,7.4,6.8],
[5.5,6.9,4.2,6.2,4.6,3.4,5.8,4.1,5.0,3.8],[2.4,3.9,1.1,3.0,0.4,2.2,-0.5,2.8,1.5,0.1],
[-0.2,1.2,-1.6,0.5,-2.2,1.6,-0.9,0.9,-2.9,0.2],[2.2,1.0,3.6,1.8,2.8,4.4,2.0,3.9,5.6,2.9],
[5.2,6.8,4.4,6.2,7.6,5.7,7.1,4.7,6.5,7.9],[8.0,9.6,7.6,8.8,10.5,7.3,9.3,8.4,10.0,9.8],
[10.0,11.4,9.4,10.8,12.0,9.9,11.8,10.4,12.4,11.0],[11.9,13.1,11.2,12.4,10.6,13.5,11.6,12.8,11.0,12.2],
[12.5,14.1,11.9,13.4,12.2,14.5,13.0,11.6,13.9,12.8],[13.0,11.9,13.6,12.4,11.4,13.3,12.0,11.7,12.6,11.2],
[10.7,11.6,10.2,11.1,9.7,10.9,9.5,11.3,10.1,9.3],[8.6,9.8,7.8,9.0,7.3,8.3,6.5,8.9,7.2,6.8],
[5.6,7.1,4.4,6.4,5.1,3.5,5.9,4.1,5.3,3.7],[2.9,4.3,1.6,3.3,1.4,2.5,0.0,3.1,0.8,2.0],
[0.3,1.5,-1.0,0.9,-1.9,1.3,-0.6,1.9,-1.5,0.2],[2.4,1.0,3.5,1.8,3.0,0.3,4.0,2.2,3.4,1.4],
[4.3,5.9,3.4,5.1,4.0,6.4,4.6,6.0,3.0,5.6],[6.6,8.2,5.6,7.3,8.8,6.1,7.6,9.2,6.9,8.5],
[8.8,10.2,8.1,9.6,10.9,8.6,10.7,9.1,11.4,9.7],[10.7,12.2,10.1,11.6,13.0,10.4,12.8,11.2,13.4,11.9],
[12.3,14.2,11.6,13.2,15.0,12.5,14.6,12.9,13.7,15.8],[13.2,12.0,14.0,11.8,13.5,12.4,13.0,11.4,12.7,11.1],
[10.4,11.4,9.4,10.9,9.6,11.2,8.9,10.1,9.0,10.7],[7.8,9.3,6.8,8.5,7.0,8.0,6.0,8.7,6.5,7.4],
[5.0,6.5,3.8,5.6,4.4,3.0,5.4,4.0,2.4,4.7],[2.2,3.7,0.9,2.8,0.2,1.9,-1.0,2.6,1.2,-0.3],
[-0.6,0.9,-1.9,0.5,-2.6,1.0,-1.2,0.2,-2.1,1.6],[1.2,-0.3,2.6,0.4,1.8,-1.6,2.3,0.9,3.2,-0.7],
[2.0,3.6,0.8,2.6,4.1,1.4,3.3,0.5,2.4,4.4],[3.2,5.0,2.5,4.1,5.8,2.9,4.6,3.6,6.4,5.2],
[6.1,7.9,5.4,7.0,8.6,6.6,8.0,10.1,7.4,9.1],[10.0,11.6,9.3,12.0,10.9,13.0,11.2,12.6,10.4,13.9]
];
const seriesNames = ['T° max EM SCL', 'T° min EM SCL', 'T° max EM RW', 'T° min EM RW'];
const xTitle = 'Fecha';
const yTitle = 'Temperatura [°C]';

// ---- build dates: readings spread evenly inside each month ----
function flatten(start, rows, perMonth, shift) {
  const xs = [], ys = [];
  rows.forEach((row, i) => {
    const mIdx = start[1] - 1 + i;
    const y = start[0] + Math.floor(mIdx / 12), m = mIdx % 12;
    const t0 = Date.UTC(y, m, 1), t1 = Date.UTC(y, m + 1, 1);
    row.forEach((v, j) => {
      const t = t0 + (j + shift) / perMonth * (t1 - t0);
      xs.push(new Date(t).toISOString().slice(0, 16).replace('T', ' '));
      ys.push(v);
    });
  });
  return {x: xs, y: ys};
}
function combine(start, rows1, rows2, perMonth) {
  const p = flatten(start, rows1, perMonth, 0.5), q = flatten(start, rows2, perMonth, 0.0);
  return {x: p.x.concat(q.x), y: p.y.concat(q.y)};
}
const a = combine(sclStart, tmaxSCL, tmaxSCL2, 8), b = combine(sclStart, tminSCL, tminSCL2, 8);
const c = combine(rwStart, tmaxRW, tmaxRW2, 10), d = combine(rwStart, tminRW, tminRW2, 10);

const W = 785, H = 1281;
const px = v => v / W, py = v => 1 - v / H;

const traces = [
  {type:'scatter', mode:'markers', name:seriesNames[0], x:a.x, y:a.y, xaxis:'x', yaxis:'y', legend:'legend',
   marker:{symbol:'circle', size:4, color:'#a4cf88'}},
  {type:'scatter', mode:'markers', name:seriesNames[1], x:b.x, y:b.y, xaxis:'x', yaxis:'y', legend:'legend',
   marker:{symbol:'circle', size:4, color:'#548235'}},
  {type:'scatter', mode:'markers', name:seriesNames[2], x:c.x, y:c.y, xaxis:'x2', yaxis:'y2', legend:'legend2',
   marker:{symbol:'x-thin', size:6, color:'#3a7cc2', line:{width:1.2, color:'#3a7cc2'}}},
  {type:'scatter', mode:'markers', name:seriesNames[3], x:d.x, y:d.y, xaxis:'x2', yaxis:'y2', legend:'legend2',
   marker:{symbol:'x-thin', size:6, color:'#1f3864', line:{width:1.2, color:'#1f3864'}}}
];

const grid = '#d9d9d9';
const tickFont = {family:'Liberation Sans, Arial, sans-serif', size:17, color:'#595959'};
const titleFont = {family:'Liberation Sans, Arial, sans-serif', size:17, color:'#404040'};
function xAx(r, anchor, so) {
  return {type:'date', range:r, domain:[px(87), px(767)], anchor:anchor, dtick:'M12', tick0:r[0],
    tickformat:'%Y', tickangle:-90, showgrid:true, gridcolor:grid, gridwidth:1, showline:true, linecolor:grid,
    mirror:true, ticks:'', zeroline:false, automargin:false, tickfont:tickFont, ticklabelstandoff:8,
    title:{text:'<b>' + xTitle + '</b>', font:titleFont, standoff:so}};
}
function yAx(dom, anchor) {
  return {range:[-10, 40], dtick:5, tick0:0, domain:dom, anchor:anchor, showgrid:true, gridcolor:grid,
    gridwidth:1, showline:true, linecolor:grid, mirror:true, ticks:'', zeroline:false, automargin:false,
    tickfont:tickFont, ticklabelstandoff:12, title:{text:'<b>' + yTitle + '</b>', font:titleFont, standoff:0}};
}
const legendCommon = {orientation:'h', xanchor:'left', yanchor:'middle', bgcolor:'rgba(0,0,0,0)',
  borderwidth:0, font:{family:'Liberation Sans, Arial, sans-serif', size:15, color:'#404040'},
  entrywidth:223, itemclick:false, itemdoubleclick:false};

const layout = {
  width:W, height:H, margin:{l:0, r:0, t:0, b:0}, paper_bgcolor:'#ffffff', plot_bgcolor:'#ffffff',
  font:{family:'Liberation Sans, Arial, sans-serif', color:'#595959'},
  showlegend:true,
  xaxis:xAx(['2009-01-01', '2017-01-01'], 'y', 19),
  yaxis:yAx([py(403), py(34)], 'x'),
  xaxis2:xAx(['2016-01-01', '2023-01-01'], 'y2', 17),
  yaxis2:yAx([py(1037), py(669)], 'x2'),
  legend:Object.assign({x:px(210), y:py(560)}, legendCommon),
  legend2:Object.assign({x:px(210), y:py(1193)}, legendCommon),
  shapes:[
    {type:'rect', xref:'paper', yref:'paper', x0:px(88), x1:px(767), y0:py(616), y1:py(503), line:{color:'#a6a6a6', width:1}},
    {type:'rect', xref:'paper', yref:'paper', x0:px(88), x1:px(767), y0:py(1251), y1:py(1138), line:{color:'#a6a6a6', width:1}},
    {type:'line', xref:'paper', yref:'paper', x0:px(8), x1:px(8), y0:0, y1:py(1), line:{color:'#4f81bd', width:2}},
    {type:'line', xref:'paper', yref:'paper', x0:px(7), x1:1, y0:py(2), y1:py(2), line:{color:'#4f81bd', width:2}}
  ]
};
Plotly.newPlot('chart', traces, layout, {staticPlot:true, displayModeBar:false});
</script>
</body>
</html>
